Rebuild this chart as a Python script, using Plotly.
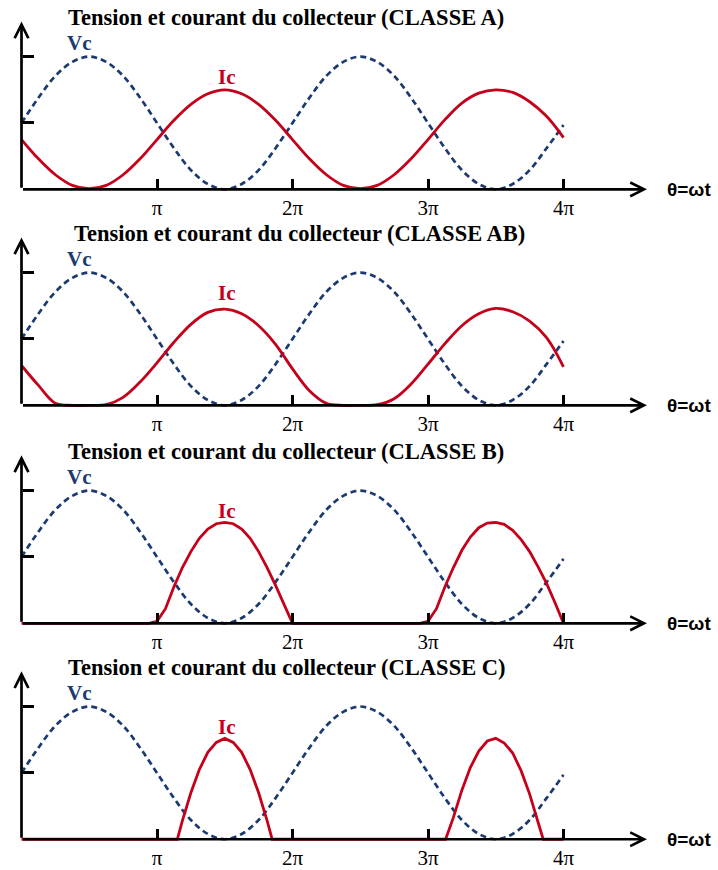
import plotly.graph_objects as go

# theta expressed in multiples of pi
THETA = [0.0, 0.125, 0.25, 0.375, 0.5, 0.625, 0.75, 0.875,
         1.0, 1.125, 1.25, 1.375, 1.5, 1.625, 1.75, 1.875,
         2.0, 2.125, 2.25, 2.375, 2.5, 2.625, 2.75, 2.875,
         3.0, 3.125, 3.25, 3.375, 3.5, 3.625, 3.75, 3.875, 4.0]

VC = [1.00, 1.38, 1.71, 1.92, 2.00, 1.92, 1.71, 1.38,
      1.00, 0.62, 0.29, 0.08, 0.00, 0.08, 0.29, 0.62,
      1.00, 1.38, 1.71, 1.92, 2.00, 1.92, 1.71, 1.38,
      1.00, 0.62, 0.29, 0.08, 0.00, 0.08, 0.29, 0.62, 0.97]

IC_A = [0.75, 0.46, 0.22, 0.06, 0.01, 0.06, 0.22, 0.46,
        0.75, 1.04, 1.28, 1.44, 1.50, 1.44, 1.28, 1.04,
        0.75, 0.46, 0.22, 0.06, 0.01, 0.06, 0.22, 0.46,
        0.75, 1.05, 1.30, 1.45, 1.50, 1.46, 1.32, 1.10, 0.78]

IC_AB = [0.60, 0.30, 0.03, 0.00, 0.00, 0.01, 0.12, 0.35,
         0.64, 0.95, 1.22, 1.40, 1.45, 1.38, 1.20, 0.92,
         0.55, 0.22, 0.03, 0.00, 0.00, 0.01, 0.10, 0.32,
         0.62, 0.93, 1.20, 1.38, 1.46, 1.41, 1.27, 1.02, 0.58]

THETA_B = [0.0, 0.94, 1.0, 1.0625, 1.125, 1.1875, 1.25, 1.3125, 1.375, 1.4375,
           1.5, 1.5625, 1.625, 1.6875, 1.75, 1.8125, 1.875, 1.9375, 2.0,
           2.94, 3.0, 3.0625, 3.125, 3.1875, 3.25, 3.3125, 3.375, 3.4375,
           3.5, 3.5625, 3.625, 3.6875, 3.75, 3.8125, 3.875, 3.9375, 4.0]
IC_B = [0.0, 0.0, 0.03, 0.22, 0.55, 0.84, 1.08, 1.28, 1.42, 1.50,
        1.52, 1.50, 1.42, 1.28, 1.08, 0.84, 0.57, 0.29, 0.0,
        0.0, 0.03, 0.22, 0.55, 0.84, 1.10, 1.30, 1.44, 1.51,
        1.52, 1.49, 1.40, 1.26, 1.08, 0.85, 0.60, 0.31, 0.0]

THETA_C = [0.0, 1.15, 1.1875, 1.25, 1.3125, 1.375, 1.4375, 1.5,
           1.5625, 1.625, 1.6875, 1.75, 1.8125, 1.85,
           3.13, 3.1875, 3.25, 3.3125, 3.375, 3.4375, 3.5,
           3.5625, 3.625, 3.6875, 3.75, 3.8125, 3.85, 4.0]
IC_C = [0.0, 0.0, 0.28, 0.70, 1.05, 1.31, 1.46, 1.52,
        1.46, 1.31, 1.05, 0.70, 0.28, 0.0,
        0.0, 0.33, 0.74, 1.08, 1.33, 1.48, 1.52,
        1.45, 1.30, 1.03, 0.68, 0.26, 0.0, 0.0]

TITLES = ["Tension et courant du collecteur (CLASSE A)",
          "Tension et courant du collecteur (CLASSE AB)",
          "Tension et courant du collecteur (CLASSE B)",
          "Tension et courant du collecteur (CLASSE C)"]
TICK_VALS = [1, 2, 3, 4]
TICK_TEXT = ["π", "2π", "3π", "4π"]

# page body margin is removed below, so the figure fills the whole window
W, H = 718, 870
X0, PX_PI = 21.5, 135.5          # pixel of theta=0, pixels per pi
PX_UNIT = 67.3                   # pixels per y unit
BASES = [192, 411, 632, 851]     # pixel row of each panel's time axis
TITLE_X = [66, 72, 66, 66]
NAVY, RED = "#1c3a70", "#c4001a"
SERIF = "Liberation Serif"


def fx(px):
    return px / W


def fy(py):
    return 1 - py / H


panels = [(THETA, IC_A, "spline"), (THETA, IC_AB, "spline"),
          (THETA_B, IC_B, "linear"), (THETA_C, IC_C, "linear")]

fig = go.Figure()
layout = {}
annotations = []
for i, (base, (tx, ic, shape)) in enumerate(zip(BASES, panels)):
    n = "" if i == 0 else str(i + 1)
    xa, ya = "x" + n, "y" + n
    fig.add_trace(go.Scatter(x=THETA, y=VC, mode="lines", xaxis=xa, yaxis=ya,
                             line=dict(color=NAVY, width=2.7, dash="6px,4px", shape="spline"),
                             showlegend=False, hoverinfo="skip"))
    fig.add_trace(go.Scatter(x=tx, y=ic, mode="lines", xaxis=xa, yaxis=ya,
                             line=dict(color=RED, width=2.8, shape=shape),
                             showlegend=False, hoverinfo="skip"))

    layout["xaxis" + n] = dict(range=[-X0 / PX_PI, (W - X0) / PX_PI], domain=[0, 1],
                               anchor="free", position=fy(base),
                               tickvals=TICK_VALS, ticktext=TICK_TEXT,
                               ticks="inside", ticklen=10, tickwidth=2.6, tickcolor="black",
                               ticklabelstandoff=4,
                               tickfont=dict(family=SERIF, size=21, color="black"),
                               showgrid=False, zeroline=False, showline=False, fixedrange=True)
    layout["yaxis" + n] = dict(range=[-14 / PX_UNIT, 184 / PX_UNIT],
                               domain=[fy(base + 14), fy(base - 184)],
                               anchor="free", position=fx(X0),
                               tickvals=[1, 2], ticks="inside", ticklen=11, tickwidth=2.6,
                               tickcolor="black", showticklabels=False,
                               showgrid=False, zeroline=False, showline=False, fixedrange=True)

    # axes with arrow heads
    annotations.append(dict(xref=xa, yref=ya, axref=xa, ayref=ya, x=4.616, y=0, ax=0, ay=0,
                            text="", showarrow=True, arrowhead=5, arrowsize=1.0,
                            arrowwidth=2.7, arrowcolor="black"))
    annotations.append(dict(xref=xa, yref=ya, axref=xa, ayref=ya, x=0, y=2.53, ax=0, ay=0,
                            text="", showarrow=True, arrowhead=5, arrowsize=1.0,
                            arrowwidth=2.7, arrowcolor="black"))
    annotations.append(dict(xref="paper", yref="paper", x=fx(665), y=fy(base),
                            xanchor="left", yanchor="middle", showarrow=False, text="<b>θ=ωt</b>",
                            font=dict(family="Liberation Sans", size=19, color="black")))
    annotations.append(dict(xref=xa, yref=ya, x=0.43, y=2.2, showarrow=False, text="<b>Vc</b>",
                            font=dict(family=SERIF, size=21, color=NAVY)))
    annotations.append(dict(xref=xa, yref=ya, x=1.52, y=1.69, showarrow=False, text="<b>Ic</b>",
                            font=dict(family=SERIF, size=21, color=RED)))
    annotations.append(dict(xref="paper", yref="paper", x=fx(TITLE_X[i]), y=fy(base - 174),
                            xanchor="left", yanchor="middle",
                            showarrow=False, text="<b>" + TITLES[i] + "</b>",
                            font=dict(family=SERIF, size=22.5, color="black")))

fig.update_layout(width=W, height=H, margin=dict(l=0, r=0, t=0, b=0),
                  paper_bgcolor="white", plot_bgcolor="white",
                  annotations=annotations, **layout)
fig.write_html("out.html", config={"displayModeBar": False},
               post_script="document.body.style.margin = '0';")
